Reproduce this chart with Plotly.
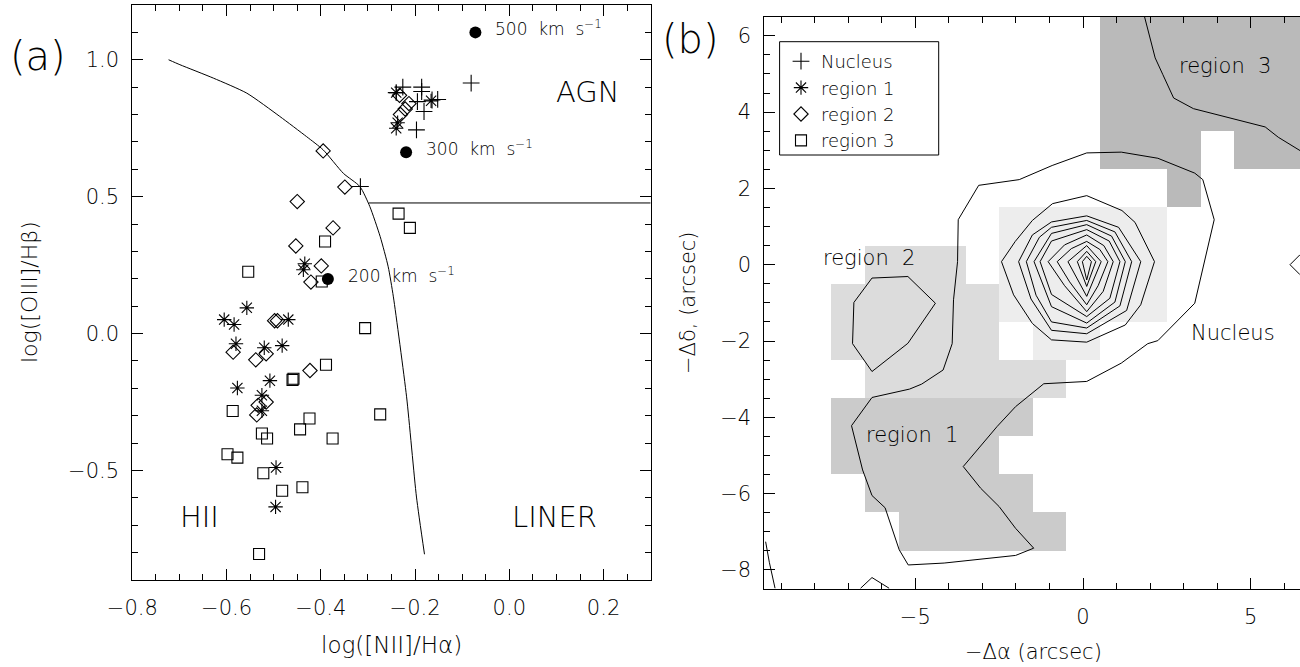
import plotly.graph_objects as go

# ---------------- Panel (a): diagnostic diagram ----------------
NUC_X = [-0.081, -0.226, -0.186, -0.186, -0.195, -0.152, -0.164, -0.181, -0.197, -0.240, -0.316]
NUC_Y = [0.915, 0.900, 0.900, 0.884, 0.847, 0.855, 0.853, 0.811, 0.744, 0.880, 0.537]

REG1_X = [-0.240, -0.166, -0.240, -0.237, -0.434, -0.437, -0.557, -0.605, -0.584, -0.469,
          -0.580, -0.520, -0.482, -0.508, -0.577, -0.525, -0.525, -0.495, -0.496]
REG1_Y = [0.880, 0.850, 0.750, 0.770, 0.255, 0.233, 0.094, 0.051, 0.033, 0.051,
          -0.037, -0.052, -0.044, -0.172, -0.199, -0.225, -0.282, -0.489, -0.633]

REG2_X = [-0.233, -0.231, -0.221, -0.213, -0.395, -0.349, -0.450, -0.374, -0.453, -0.399,
          -0.421, -0.498, -0.492, -0.586, -0.538, -0.516, -0.423, -0.516, -0.533, -0.536]
REG2_Y = [0.870, 0.800, 0.820, 0.840, 0.667, 0.535, 0.482, 0.386, 0.320, 0.247,
          0.188, 0.047, 0.047, -0.068, -0.096, -0.074, -0.135, -0.250, -0.262, -0.297]

REG3_X = [-0.235, -0.211, -0.391, -0.554, -0.398, -0.306, -0.389, -0.460, -0.458, -0.587,
          -0.274, -0.424, -0.444, -0.375, -0.525, -0.514, -0.598, -0.577, -0.522, -0.482,
          -0.439, -0.531]
REG3_Y = [0.438, 0.386, 0.336, 0.226, 0.190, 0.020, -0.114, -0.169, -0.165, -0.283,
          -0.295, -0.310, -0.350, -0.383, -0.365, -0.383, -0.441, -0.453, -0.510, -0.574,
          -0.561, -0.805]

SHOCK_X = [-0.072, -0.219, -0.385]
SHOCK_Y = [1.100, 0.662, 0.199]
SHOCK_LABELS = ["500\u00a0 km\u00a0 s<sup>−1</sup>", "300\u00a0 km\u00a0 s<sup>−1</sup>",
                "200\u00a0 km\u00a0 s<sup>−1</sup>"]

# Demarcation curve between HII and AGN/LINER, and the AGN/LINER divider
CURVE_X = [-0.723, -0.699, -0.628, -0.557, -0.487, -0.430, -0.395, -0.352, -0.317,
           -0.296, -0.274, -0.257, -0.246, -0.218, -0.197, -0.180]
CURVE_Y = [1.000, 0.982, 0.933, 0.878, 0.793, 0.719, 0.671, 0.585, 0.537,
           0.464, 0.354, 0.244, 0.134, -0.231, -0.597, -0.806]
DIVIDER_X = [-0.298, 0.30]
DIVIDER_Y = [0.477, 0.477]

# ---------------- Panel (b): spatial map ----------------
MAP_X = list(range(-9, 7))      # pixel centres, arcsec
MAP_Y = list(range(-8, 7))
# rows: y -> list of (x_first, x_last) inclusive pixel runs
REGION1_ROWS = {-4: [(-7, -2)], -5: [(-7, -3)], -6: [(-6, -2)], -7: [(-5, -1)]}
REGION2_ROWS = {0: [(-6, -4)], -1: [(-7, -3)], -2: [(-7, -3)], -3: [(-6, -1)]}
REGION3_ROWS = {6: [(1, 6)], 5: [(1, 6)], 4: [(1, 6)], 3: [(1, 3), (5, 6)], 2: [(3, 3)]}
NUCLEUS_ROWS = {1: [(-2, 2)], 0: [(-2, 2)], -1: [(-2, 2)], -2: [(-1, 0)]}

# Intensity contours (arcsec)
C_OUTER = [(-3.72, 1.18), (-3.11, 2.08), (-1.90, 2.23), (-0.92, 2.60), (0.11, 2.93), (1.14, 2.95),
           (2.23, 2.79), (3.33, 2.40), (3.57, 2.23), (3.91, 1.18), (3.33, -1.01), (2.54, -1.71),
           (2.23, -1.99), (1.93, -2.07), (1.14, -2.58), (0.11, -3.06), (-1.17, -3.12), (-2.01, -3.72),
           (-2.56, -4.24), (-3.57, -5.29), (-3.05, -5.86), (-2.50, -6.34), (-2.01, -6.91), (-1.47, -7.43),
           (-2.01, -7.62), (-4.14, -7.82), (-5.21, -7.87), (-5.48, -7.47), (-5.90, -6.37), (-6.29, -6.05),
           (-6.57, -5.38), (-6.90, -4.22), (-6.29, -3.48), (-5.17, -3.26), (-4.81, -3.13), (-4.17, -2.76),
           (-3.90, -2.07), (-3.86, -0.92), (-3.74, 0.08), (-3.72, 1.18)]
C_REGION3 = [(1.83, 6.51), (2.15, 5.42), (2.38, 4.98), (2.70, 4.37), (3.29, 4.09), (4.48, 3.83),
             (5.43, 3.61), (5.82, 3.34), (6.47, 2.99)]
C_REGION2 = [(-6.29, -0.35), (-5.22, -0.31), (-4.40, -1.01), (-5.22, -2.06), (-6.29, -2.80),
             (-6.87, -2.07), (-6.83, -0.99), (-6.29, -0.35)]
C_CORNER = [(-9.46, -7.26), (-9.35, -7.8), (-9.18, -8.48)]
C_BOTTOM = [(-6.63, -8.48), (-6.29, -8.20), (-5.78, -8.48)]
C_NUCLEUS = [
    [(-2.43, 0.08), (-2.02, 0.61), (-1.51, 1.16), (-0.91, 1.60), (0.11, 1.81), (1.16, 1.42),
     (1.55, 1.11), (2.13, 0.08), (1.72, -1.05), (1.26, -1.58), (0.11, -2.03), (-0.94, -1.97),
     (-1.51, -1.54), (-2.07, -0.79), (-2.43, 0.08)],
    [(-1.92, 0.08), (-1.51, 0.78), (-0.94, 1.12), (0.11, 1.28), (1.06, 0.98), (1.72, 0.08),
     (1.30, -1.20), (0.11, -1.81), (-0.94, -1.72), (-1.55, -0.90), (-1.92, 0.08)],
    [(-1.69, 0.08), (-1.30, 0.72), (-0.94, 0.98), (0.11, 1.16), (0.95, 0.86), (1.45, 0.08),
     (1.10, -1.08), (0.11, -1.66), (-0.94, -1.50), (-1.40, -0.80), (-1.69, 0.08)],
    [(-1.46, 0.08), (-0.94, 0.82), (0.11, 1.05), (0.85, 0.75), (1.26, 0.08), (0.95, -0.98),
     (0.11, -1.53), (-0.94, -1.10), (-1.46, 0.08)],
    [(-1.28, 0.08), (-0.94, 0.62), (0.11, 0.92), (0.78, 0.62), (1.10, 0.08), (0.80, -0.88),
     (0.11, -1.36), (-0.94, -0.78), (-1.28, 0.08)],
    [(-1.04, 0.08), (-0.55, 0.52), (0.11, 0.78), (0.62, 0.50), (0.90, 0.08), (0.60, -0.70),
     (0.11, -1.23), (-0.55, -0.55), (-1.04, 0.08)],
    [(-0.77, 0.08), (-0.35, 0.42), (0.11, 0.61), (0.50, 0.40), (0.74, 0.08), (0.45, -0.55),
     (0.11, -1.05), (-0.40, -0.45), (-0.77, 0.08)],
    [(-0.45, 0.08), (0.11, 0.50), (0.54, 0.08), (0.11, -0.83), (-0.45, 0.08)],
    [(-0.17, 0.08), (0.11, 0.35), (0.38, 0.08), (0.11, -0.57), (-0.17, 0.08)],
    [(-0.02, 0.08), (0.11, 0.22), (0.25, 0.08), (0.11, -0.40), (-0.02, 0.08)],
]

REGION_LABELS = [("region\u00a0\u00a03", 4.23, 5.20), ("region\u00a0\u00a02", -6.37, 0.18),
                 ("region\u00a0\u00a01", -5.10, -4.46), ("Nucleus", 4.47, -1.79)]

GREY = {1: "#cbcbcb", 2: "#dcdcdc", 3: "#bababa", 4: "#ededed"}

FONT = "DejaVu Sans"
WEIGHT = 200
INK = "black"


def fnt(size):
    return dict(size=size, family=FONT, color=INK, weight=WEIGHT)


def build_map():
    z = [[None for _ in MAP_X] for _ in MAP_Y]
    for code, rows in ((1, REGION1_ROWS), (2, REGION2_ROWS), (3, REGION3_ROWS), (4, NUCLEUS_ROWS)):
        for yv, runs in rows.items():
            for x0, x1 in runs:
                for xv in range(x0, x1 + 1):
                    z[MAP_Y.index(yv)][MAP_X.index(xv)] = code
    return z


fig = go.Figure()

# pixel regions
cs = [[0.0, GREY[1]], [1 / 6, GREY[1]], [1 / 6, GREY[2]], [0.5, GREY[2]],
      [0.5, GREY[3]], [5 / 6, GREY[3]], [5 / 6, GREY[4]], [1.0, GREY[4]]]
fig.add_trace(go.Heatmap(x=MAP_X, y=MAP_Y, z=build_map(), zmin=1, zmax=4, colorscale=cs,
                         showscale=False, hoverinfo="skip", xaxis="x2", yaxis="y2"))

line_kw = dict(color=INK, width=1)
for poly in [C_OUTER, C_REGION3, C_REGION2, C_CORNER, C_BOTTOM] + C_NUCLEUS:
    fig.add_trace(go.Scatter(x=[p[0] for p in poly], y=[p[1] for p in poly], mode="lines",
                             line=line_kw, showlegend=False, hoverinfo="skip",
                             xaxis="x2", yaxis="y2"))

# partially visible symbol at the right edge of the map
fig.add_trace(go.Scatter(x=[6.46], y=[0.0], mode="markers", cliponaxis=False, showlegend=False,
                         marker=dict(symbol="diamond-open", size=15, color=INK,
                                     line=dict(width=1, color=INK)),
                         xaxis="x2", yaxis="y2"))

# panel (a) curves
fig.add_trace(go.Scatter(x=CURVE_X, y=CURVE_Y, mode="lines",
                         line=dict(color=INK, width=1, shape="spline", smoothing=0.6),
                         showlegend=False, hoverinfo="skip"))
fig.add_trace(go.Scatter(x=DIVIDER_X, y=DIVIDER_Y, mode="lines", line=line_kw,
                         showlegend=False, hoverinfo="skip"))

# panel (a) points
series = [
    ("Nucleus", NUC_X, NUC_Y, "cross-thin-open", 12),
    ("region 1", REG1_X, REG1_Y, "asterisk-open", 12),
    ("region 2", REG2_X, REG2_Y, "diamond-open", 11),
    ("region 3", REG3_X, REG3_Y, "square-open", 11),
]
for name, xs, ys, sym, size in series:
    fig.add_trace(go.Scatter(x=xs, y=ys, mode="markers", name=name, cliponaxis=False,
                             marker=dict(symbol=sym, size=size, color=INK,
                                         line=dict(width=1.1, color=INK))))

fig.add_trace(go.Scatter(x=SHOCK_X, y=SHOCK_Y, mode="markers", showlegend=False,
                         marker=dict(symbol="circle", size=12, color=INK)))

ann = []
for xv, yv, lab in zip(SHOCK_X, SHOCK_Y, SHOCK_LABELS):
    ann.append(dict(x=xv, y=yv, xref="x", yref="y", text=lab, showarrow=False,
                    xanchor="left", yanchor="middle", xshift=18, yshift=4, font=fnt(17)))
for txt, xv, yv in [("AGN", 0.167, 0.883), ("LINER", 0.096, -0.669), ("HII", -0.658, -0.669)]:
    ann.append(dict(x=xv, y=yv, xref="x", yref="y", text=txt, showarrow=False,
                    xanchor="center", yanchor="middle", font=fnt(29)))
for txt, xv, yv in REGION_LABELS:
    ann.append(dict(x=xv, y=yv, xref="x2", yref="y2", text=txt, showarrow=False,
                    xanchor="center", yanchor="middle", font=fnt(21)))

W, H = 1300, 667
def px(x):
    return x / W
def py(y):
    return 1 - y / H

for txt, x0, y0, size, angle in [
    ("(a)", 38, 56, 40, 0),
    ("(b)", 690, 39, 40, 0),
    ("log([OIII]/Hβ)", 29, 292, 22, -90),
    ("log([NII]/Hα)", 391.5, 645, 23, 0),
    ("−Δα (arcsec)", 1033, 652, 21, 0),
    ("−Δδ, (arcsec)", 688, 303, 21, -90),
]:
    ann.append(dict(x=px(x0), y=py(y0), xref="paper", yref="paper", text=txt, textangle=angle,
                    showarrow=False, xanchor="center", yanchor="middle", font=fnt(size)))

axis_common = dict(showgrid=False, zeroline=False, showline=True, linecolor=INK, linewidth=1,
                   ticks="inside", ticklen=11, tickwidth=1, tickcolor=INK, tickfont=fnt(21),
                   automargin=False)

# frame around the legend
shapes = [dict(type="rect", xref="paper", yref="paper", x0=px(779.6), x1=px(938.7),
               y0=py(155), y1=py(41.7), line=dict(color=INK, width=1), fillcolor="rgba(0,0,0,0)",
               layer="above")]

fig.update_layout(
    width=W, height=H, margin=dict(l=0, r=0, t=0, b=0, autoexpand=False),
    paper_bgcolor="white", plot_bgcolor="white",
    font=fnt(21),
    xaxis=dict(domain=[px(132.3), px(650.7)], range=[-0.8, 0.3], dtick=0.2, tick0=-0.8,
               tickformat=".1f", mirror="allticks", anchor="y", ticklabelstandoff=9,
               minor=dict(dtick=0.05, ticklen=6, tickcolor=INK, ticks="inside"), **axis_common),
    yaxis=dict(domain=[py(580), py(5)], range=[-0.9, 1.2], dtick=0.5, tick0=0,
               tickformat=".1f", mirror="allticks", anchor="x", ticklabelstandoff=8,
               minor=dict(dtick=0.1, ticklen=6, tickcolor=INK, ticks="inside"), **axis_common),
    xaxis2=dict(domain=[px(764.3), 1.0], range=[-9.5, 6.467], tickvals=[-5, 0, 5],
                mirror="allticks", anchor="y2", ticklabelstandoff=9,
                minor=dict(dtick=1, tick0=0, ticklen=6, tickcolor=INK, ticks="inside"), **axis_common),
    yaxis2=dict(domain=[py(589), py(16.7)], range=[-8.5, 6.5], dtick=2, tick0=0,
                anchor="x2", ticklabelstandoff=8,
                minor=dict(dtick=0.5, tick0=0, ticklen=6, tickcolor=INK, ticks="inside"), **axis_common),
    yaxis3=dict(domain=[py(589), py(16.7)], range=[-8.5, 6.5], dtick=2, tick0=0, overlaying="y2",
                side="right", anchor="x2", showline=False, showgrid=False, zeroline=False,
                ticks="inside", ticklen=11, tickcolor=INK, showticklabels=False, automargin=False,
                minor=dict(dtick=0.5, tick0=0, ticklen=6, tickcolor=INK, ticks="inside")),
    legend=dict(x=px(781), y=py(43), xanchor="left", yanchor="top", bgcolor="rgba(0,0,0,0)",
                borderwidth=0, font=fnt(18), itemwidth=30, tracegroupgap=0),
    annotations=ann,
    shapes=shapes,
    showlegend=True,
)

fig.write_html("out.html")
